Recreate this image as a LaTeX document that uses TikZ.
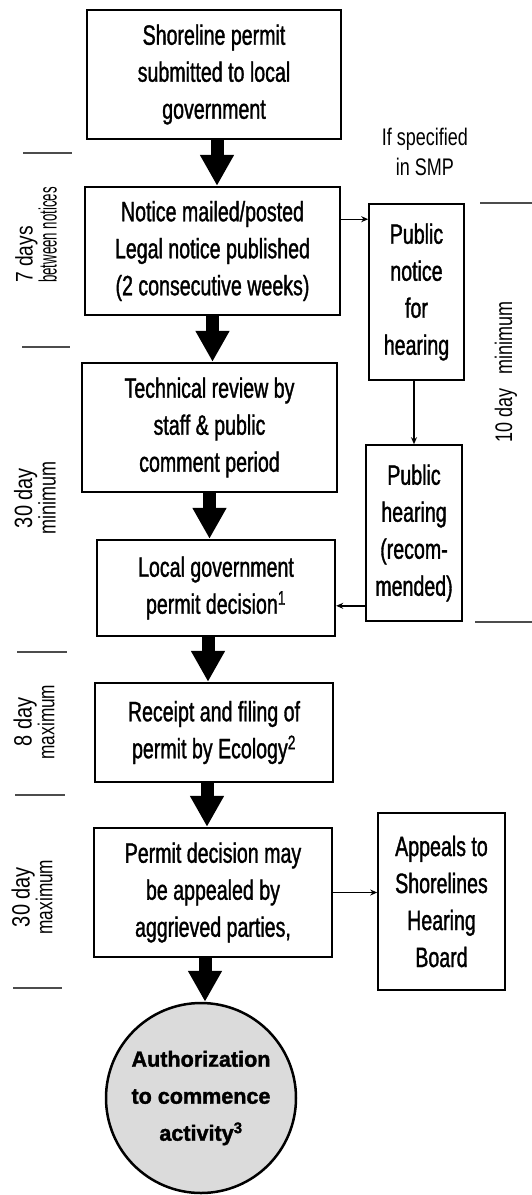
\documentclass[tikz,border=0pt]{standalone}
\usepackage{fontspec}
\setmainfont{Liberation Sans}[FakeStretch=0.7, FakeBold=1.2]
\newfontfamily\widelabel{Liberation Sans}[FakeStretch=0.8]
\newfontfamily\narrowlabel{Liberation Sans}[FakeStretch=0.75]
\newfontfamily\thinlabel{Liberation Sans}[FakeStretch=0.53]
\newfontfamily\roundfont{Liberation Sans}[FakeStretch=0.98, FakeBold=1.6]
\usetikzlibrary{arrows.meta}
\begin{document}
\begin{tikzpicture}[x=1pt,y=-1pt,
  stepbox/.style={draw, line width=2.4pt, inner sep=0pt, align=center,
    font=\fontsize{28}{37}\selectfont},
  sidebox/.style={draw, line width=1.6pt, inner sep=0pt, align=center,
    font=\fontsize{28}{37}\selectfont},
  bigarrow/.style={line width=13pt, -{Triangle[length=31pt,width=32pt]}},
  thinarrow/.style={line width=1.4pt, -{Stealth[length=7pt,width=6pt]}},
  sepline/.style={line width=1.2pt, draw=black!70},
  timelabel/.style={rotate=90, inner sep=0pt, align=center},
]
\useasboundingbox (0,0) rectangle (532,1195);

% main process boxes
\node[stepbox, minimum width=254pt, minimum height=129pt] (b1) at (214,74.5)
  {Shoreline permit\\submitted to local\\government};
\node[stepbox, minimum width=255pt, minimum height=128pt] (b2) at (212.5,251)
  {Notice mailed/posted\\Legal notice published\\(2 consecutive weeks)};
\node[stepbox, minimum width=255pt, minimum height=129pt] (b3) at (209.5,427.5)
  {Technical review by\\staff \& public\\comment period};
\node[stepbox, minimum width=238pt, minimum height=96pt] (b4) at (216,588)
  {Local government\\permit decision\textsuperscript{1}};
\node[stepbox, minimum width=238pt, minimum height=99pt] (b5) at (214,732.5)
  {Receipt and filing of\\permit by Ecology\textsuperscript{2}};
\node[stepbox, minimum width=238pt, minimum height=129pt] (b6) at (213,892.5)
  {Permit decision may\\be appealed by\\aggrieved parties,};

% side boxes
\node[sidebox, minimum width=95pt, minimum height=176pt] (pn) at (416.5,292)
  {Public\\notice\\for\\hearing};
\node[sidebox, minimum width=96pt, minimum height=176pt] (ph) at (414,533)
  {Public\\hearing\\(recom-\\mended)};
\node[sidebox, minimum width=127pt, minimum height=177pt] (ap) at (441.5,901.5)
  {Appeals to\\Shorelines\\Hearing\\Board};

% final state
\node[circle, draw, line width=2.5pt, fill=gray!28, minimum size=190pt,
  inner sep=0pt, align=center,
  font=\roundfont\bfseries\fontsize{22}{37}\selectfont] (auth) at (201,1098)
  {Authorization\\to commence\\activity\textsuperscript{3}};

% note above the side branch
\node[align=center, font=\narrowlabel\fontsize{24}{30}\selectfont] (note) at (425,152)
  {If specified\\in SMP};

% main flow
\draw[bigarrow] ([xshift=3pt]b1.south) -- ([xshift=3pt]b1.south |- b2.north);
\draw[bigarrow] (b2.south) -- (b2.south |- b3.north);
\draw[bigarrow] (b3.south) -- (b3.south |- b4.north);
\draw[bigarrow] ([xshift=-8pt]b4.south) -- ([xshift=-8pt]b4.south |- b5.north);
\draw[bigarrow] ([xshift=-7pt]b5.south) -- ([xshift=-7pt]b5.south |- b6.north);
\draw[bigarrow] ([xshift=-8pt]b6.south) -- ([xshift=-8pt]b6.south |- auth.north);

% side branches
\coordinate (pnin) at ([yshift=-16pt]pn.north west);
\draw[thinarrow] (b2.east |- pnin) -- (pnin);
\draw[thinarrow] (ph.north |- pn.south) -- (ph.north);
\coordinate (phout) at ([yshift=16pt]ph.south west);
\draw[thinarrow] (phout) -- (b4.east |- phout);
\draw[thinarrow] (b6.east) -- (b6.east -| ap.west);

% time period markers
\draw[sepline] (23,153) -- (72,153);
\draw[sepline] (22,347) -- (70,347);
\draw[sepline] (17,652) -- (67,652);
\draw[sepline] (15,795) -- (65,795);
\draw[sepline] (13,988) -- (62,988);
\draw[sepline] (480,203) -- (532,203);
\draw[sepline] (475,622) -- (532,622);

\node[timelabel, anchor=west, align=left] (t1) at (36,283)
  {{\widelabel\fontsize{24}{25}\selectfont 7 days}\\{\thinlabel\fontsize{25}{24}\selectfont between notices}};
\node[timelabel] (t2) at (35,498)
  {{\widelabel\fontsize{25}{24}\selectfont 30 day}\\{\narrowlabel\fontsize{24}{22}\selectfont minimum}};
\node[timelabel] (t3) at (34,722)
  {{\widelabel\fontsize{25}{24}\selectfont 8 day}\\{\narrowlabel\fontsize{23}{22}\selectfont maximum}};
\node[timelabel] (t4) at (32,897)
  {{\widelabel\fontsize{25}{24}\selectfont 30 day}\\{\narrowlabel\fontsize{23}{22}\selectfont maximum}};
\node[timelabel, font=\narrowlabel\fontsize{24}{24}\selectfont] (t5) at (506,372)
  {10 day\hspace{14pt}minimum};
\end{tikzpicture}
\end{document}
